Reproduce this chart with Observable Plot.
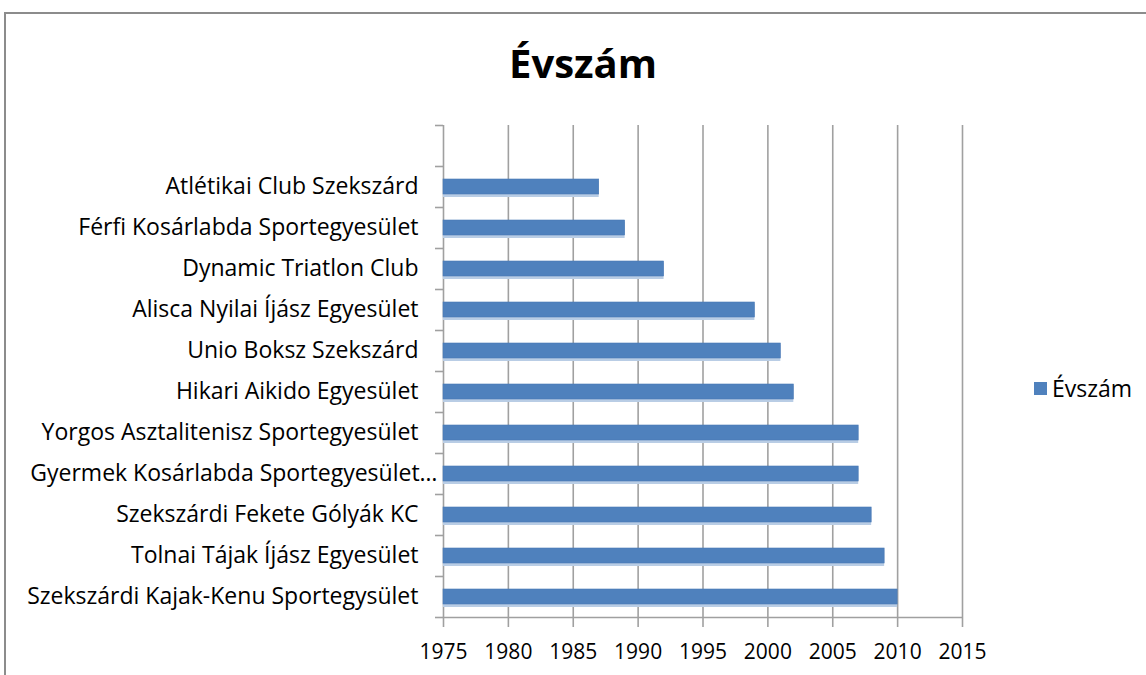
<!DOCTYPE html>
<html>
<head>
<meta charset="utf-8">
<script src="https://cdn.jsdelivr.net/npm/d3@7"></script>
<script src="https://cdn.jsdelivr.net/npm/@observablehq/plot@0.6"></script>
<style>
  html, body { margin: 0; padding: 0; background: #fff; }
  #wrap { position: relative; width: 1146px; height: 675px; overflow: hidden; font-family: "Open Sans", Lato, sans-serif; }
  #border { position: absolute; left: 4px; top: 12px; width: 1200px; height: 800px; border: 2px solid #8c8c8c; box-sizing: border-box; }
  #title { position: absolute; left: 0; width: 1166px; top: 35px; text-align: center; font-weight: bold; font-size: 40px; color: #000; }
  #legend { position: absolute; left: 1034px; top: 372px; font-size: 23px; color: #000; display: flex; align-items: center; }
  #legend .sw { width: 13px; height: 13px; background: #4f81bd; margin-right: 5px; }
  #chart { position: absolute; left: 0; top: 0; }
</style>
</head>
<body>
<div id="wrap">
  <div id="border"></div>
  <div id="chart"></div>
  <div id="title">Évszám</div>
  <div id="legend"><div class="sw"></div><span>Évszám</span></div>
</div>
<script>
const categories = [
  "Atlétikai Club Szekszárd",
  "Férfi Kosárlabda Sportegyesület",
  "Dynamic Triatlon Club",
  "Alisca Nyilai Íjász Egyesület",
  "Unio Boksz Szekszárd",
  "Hikari Aikido Egyesület",
  "Yorgos Asztalitenisz Sportegyesület",
  "Gyermek Kosárlabda Sportegyesület…",
  "Szekszárdi Fekete Gólyák KC",
  "Tolnai Tájak Íjász Egyesület",
  "Szekszárdi Kajak-Kenu Sportegysület"
];
const years = [1987, 1989, 1992, 1999, 2001, 2002, 2007, 2007, 2008, 2009, 2010];
const xTicks = [1975, 1980, 1985, 1990, 1995, 2000, 2005, 2010, 2015];
const blank = " ";
const yDomain = [blank, ...categories];
const data = categories.map((c, i) => ({name: c, year: years[i]}));
const truncated = categories.filter(c => c.endsWith("…"));
const band = (617 - 125) / yDomain.length;

const chart = Plot.plot({
  width: 1146,
  height: 675,
  marginLeft: 443,
  marginRight: 184,
  marginTop: 125,
  marginBottom: 58,
  style: {fontFamily: "'Open Sans', Lato, sans-serif", color: "#000", background: "transparent"},
  x: {domain: [1975, 2015], ticks: xTicks, label: null},
  y: {domain: yDomain, padding: 0, round: false, label: null},
  marks: [
    Plot.gridX(xTicks, {stroke: "#a0a0a0", strokeOpacity: 1, strokeWidth: 1.6}),
    Plot.ruleY([categories[categories.length - 1]], {dy: band / 2, stroke: "#a0a0a0", strokeWidth: 1.6}),
    Plot.barX(data, {x1: 1975, x2: "year", y: "name", insetTop: 13.5, insetBottom: 11.5, fill: "#b9cde5", dy: 1.5}),
    Plot.barX(data, {x1: 1975, x2: "year", y: "name", insetTop: 13, insetBottom: 13, fill: "#4f81bd", stroke: "#4a7ab5", strokeWidth: 0.6}),
    Plot.axisX({ticks: xTicks, tickSize: 10, tickPadding: 17, fontSize: 21, stroke: "#a0a0a0", strokeWidth: 1.6, tickFormat: d => String(d), fill: "#000"}),
    Plot.axisY({tickSize: 8, dy: -band / 2, tickFormat: null, stroke: "#a0a0a0", strokeWidth: 1.6}),
    Plot.axisY([categories[categories.length - 1]], {tickSize: 8, dy: band / 2, tickFormat: null, stroke: "#a0a0a0", strokeWidth: 1.6}),
    Plot.axisY({tickSize: 0, tickPadding: 25, fontSize: 23, fill: "#000", tickFormat: d => truncated.includes(d) ? "" : d}),
    Plot.text(truncated, {x: 1975, y: d => d, text: d => d, textAnchor: "end", dx: -6, fontSize: 23, fill: "#000"})
  ]
});
document.getElementById("chart").appendChild(chart);
</script>
</body>
</html>
